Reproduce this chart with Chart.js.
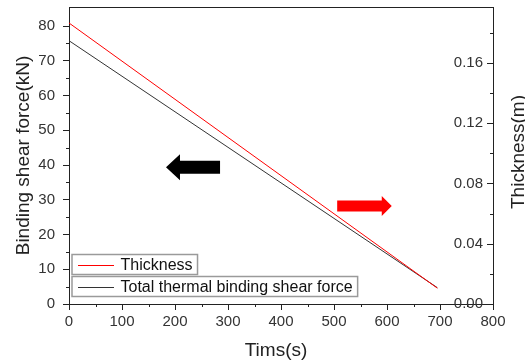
<!DOCTYPE html>
<html>
<head>
<meta charset="utf-8">
<script src="https://cdn.jsdelivr.net/npm/chart.js@4.4.1/dist/chart.umd.min.js"></script>
<style>
    html, body { margin: 0; padding: 0; background: #fff; }
    #wrap { width: 525px; height: 363px; }
</style>
</head>
<body>
<div id="wrap"><canvas id="shearChart" width="525" height="363"></canvas></div>
<script>
// Data
const timeSec = [0, 695];
const thicknessM = [0.1864, 0.0105];
const shearForceKN = [75.8, 4.7];

const xTicks = [0, 100, 200, 300, 400, 500, 600, 700, 800];
const xMinorTicks = [50, 150, 250, 350, 450, 550, 650, 750];
const leftTicks = [0, 10, 20, 30, 40, 50, 60, 70, 80];
const leftMinorTicks = [5, 15, 25, 35, 45, 55, 65, 75];
const rightTicks = [0, 0.04, 0.08, 0.12, 0.16];
const rightMinorTicks = [0.02, 0.06, 0.10, 0.14, 0.18];

const seriesLabels = ['Thickness', 'Total thermal binding shear force'];
const seriesColors = ['#ff0000', '#333333'];

// direction arrows (data units on x / left y)
const arrowFrom = [285, 506];
const arrowTo = [183, 609];
const arrowY = [39.4, 28.2];
const arrowColors = ['#000000', '#ff0000'];

const FONT = '"Liberation Sans", Arial, sans-serif';
const AXIS_COLOR = '#222';

function toPoints(xs, ys) {
    return xs.map((x, i) => ({ x: x, y: ys[i] }));
}

function noScalePadding(s) {
    s.paddingTop = 0;
    s.paddingBottom = 0;
    s.paddingLeft = 0;
    s.paddingRight = 0;
}

const extrasPlugin = {
    id: 'extras',
    afterDraw(chart) {
        const ctx = chart.ctx;
        const area = chart.chartArea;
        const xs = chart.scales.x;
        const yl = chart.scales.y;
        const yr = chart.scales.y2;

        ctx.save();
        ctx.strokeStyle = AXIS_COLOR;
        ctx.lineWidth = 1;

        // top frame line
        ctx.beginPath();
        ctx.moveTo(area.left, area.top + 0.5);
        ctx.lineTo(area.right, area.top + 0.5);
        ctx.stroke();

        // minor ticks
        ctx.beginPath();
        xMinorTicks.forEach(v => {
            const px = Math.round(xs.getPixelForValue(v)) + 0.5;
            ctx.moveTo(px, area.bottom);
            ctx.lineTo(px, area.bottom + 3);
        });
        leftMinorTicks.forEach(v => {
            const py = Math.round(yl.getPixelForValue(v)) + 0.5;
            ctx.moveTo(area.left - 3, py);
            ctx.lineTo(area.left, py);
        });
        rightMinorTicks.forEach(v => {
            const py = Math.round(yr.getPixelForValue(v)) + 0.5;
            ctx.moveTo(area.right - 3, py);
            ctx.lineTo(area.right, py);
        });
        // right axis major ticks point inward
        rightTicks.forEach(v => {
            const py = Math.round(yr.getPixelForValue(v)) + 0.5;
            ctx.moveTo(area.right - 6, py);
            ctx.lineTo(area.right, py);
        });
        ctx.stroke();

        // right axis labels sit inside the plot
        ctx.fillStyle = '#333';
        ctx.font = '15px ' + FONT;
        ctx.textAlign = 'right';
        ctx.textBaseline = 'middle';
        rightTicks.forEach(v => {
            ctx.fillText(v.toFixed(2), area.right - 10, yr.getPixelForValue(v));
        });

        // axis titles
        ctx.fillStyle = AXIS_COLOR;
        ctx.font = '19px ' + FONT;
        ctx.textAlign = 'center';
        ctx.fillText('Tims(s)', (area.left + area.right) / 2 - 5, 351);

        ctx.save();
        ctx.translate(24, (area.top + area.bottom) / 2);
        ctx.rotate(-Math.PI / 2);
        ctx.fillText('Binding shear force(kN)', 0, 0);
        ctx.restore();

        ctx.save();
        ctx.translate(519, 152);
        ctx.rotate(-Math.PI / 2);
        ctx.fillText('Thickness(m)', 0, 0);
        ctx.restore();

        // arrows
        const sizes = [{ shaft: 6.5, head: 13, len: 14 }, { shaft: 5.5, head: 10, len: 10 }];
        arrowFrom.forEach((f, i) => {
            const x0 = xs.getPixelForValue(f);
            const x1 = xs.getPixelForValue(arrowTo[i]);
            const y = yl.getPixelForValue(arrowY[i]);
            const dir = x1 > x0 ? 1 : -1;
            const s = sizes[i];
            const xb = x1 - dir * s.len;
            ctx.fillStyle = arrowColors[i];
            ctx.beginPath();
            ctx.moveTo(x0, y - s.shaft);
            ctx.lineTo(xb, y - s.shaft);
            ctx.lineTo(xb, y - s.head);
            ctx.lineTo(x1, y);
            ctx.lineTo(xb, y + s.head);
            ctx.lineTo(xb, y + s.shaft);
            ctx.lineTo(x0, y + s.shaft);
            ctx.closePath();
            ctx.fill();
        });

        // legend: one framed box per series
        ctx.font = '16px ' + FONT;
        ctx.textAlign = 'left';
        const rowTops = [254.5, 276.5];
        seriesLabels.forEach((label, i) => {
            const top = rowTops[i];
            const left = area.left + 3;
            const tw = ctx.measureText(label).width;
            const w = 120.5 - left + tw + 5;
            ctx.strokeStyle = '#9a9a9a';
            ctx.lineWidth = 1.5;
            ctx.strokeRect(left, top, w, 20);

            const ly = Math.round(top + 10) + 0.5;
            ctx.beginPath();
            ctx.strokeStyle = seriesColors[i];
            ctx.lineWidth = 1;
            ctx.moveTo(78, ly);
            ctx.lineTo(114, ly);
            ctx.stroke();

            ctx.fillStyle = '#111';
            ctx.fillText(label, 120.5, top + 11);
        });

        ctx.restore();
    }
};

new Chart(document.getElementById('shearChart'), {
    type: 'line',
    data: {
        datasets: [
            {
                label: seriesLabels[0],
                data: toPoints(timeSec, thicknessM),
                yAxisID: 'y2',
                borderColor: seriesColors[0],
                borderWidth: 1,
                pointRadius: 0,
                fill: false,
                tension: 0
            },
            {
                label: seriesLabels[1],
                data: toPoints(timeSec, shearForceKN),
                yAxisID: 'y',
                borderColor: seriesColors[1],
                borderWidth: 1,
                pointRadius: 0,
                fill: false,
                tension: 0
            }
        ]
    },
    options: {
        responsive: false,
        devicePixelRatio: 1,
        animation: false,
        layout: { padding: { top: 7, left: 0, right: 0, bottom: 0 } },
        plugins: {
            legend: { display: false },
            tooltip: { enabled: false }
        },
        scales: {
            x: {
                type: 'linear',
                min: 0,
                max: 800,
                afterBuildTicks: s => { s.ticks = xTicks.map(v => ({ value: v })); },
                afterFit: s => { s.height = 59; noScalePadding(s); },
                ticks: { color: '#333', font: { family: FONT, size: 15 }, padding: 3, maxRotation: 0 },
                grid: { drawOnChartArea: false, tickLength: 6, color: AXIS_COLOR },
                border: { color: AXIS_COLOR, width: 1 }
            },
            y: {
                position: 'left',
                min: 0,
                max: 85.5,
                afterBuildTicks: s => { s.ticks = leftTicks.map(v => ({ value: v })); },
                afterFit: s => { s.width = 69; noScalePadding(s); },
                ticks: { color: '#333', font: { family: FONT, size: 15 }, padding: 8 },
                grid: { drawOnChartArea: false, tickLength: 6, color: AXIS_COLOR },
                border: { color: AXIS_COLOR, width: 1 }
            },
            y2: {
                position: 'right',
                min: 0,
                max: 0.197,
                afterBuildTicks: s => { s.ticks = rightTicks.map(v => ({ value: v })); },
                afterFit: s => { s.width = 32; noScalePadding(s); },
                ticks: { display: false },
                grid: { display: false },
                border: { color: AXIS_COLOR, width: 1 }
            }
        }
    },
    plugins: [extrasPlugin]
});
</script>
</body>
</html>
